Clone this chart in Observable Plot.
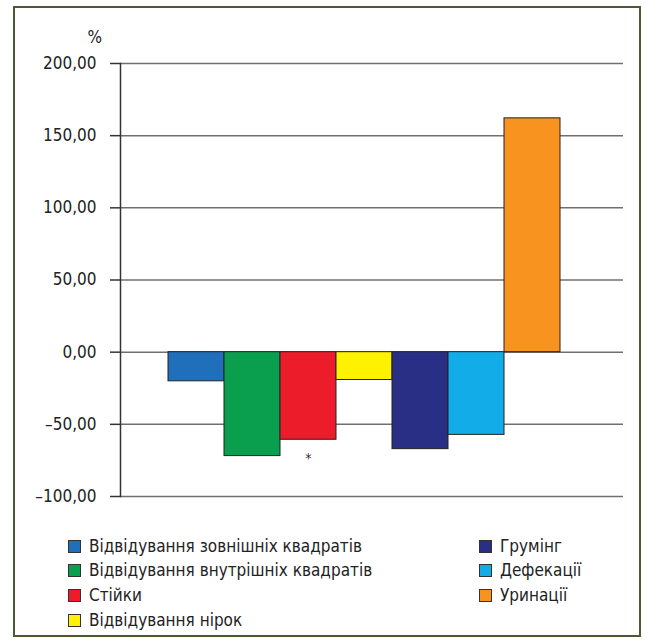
<!DOCTYPE html>
<html>
<head>
<meta charset="utf-8">
<script src="https://cdn.jsdelivr.net/npm/d3@7"></script>
<script src="https://cdn.jsdelivr.net/npm/@observablehq/plot@0.6"></script>
<style>
  html, body { margin: 0; padding: 0; background: #fff; }
  body { width: 646px; height: 640px; position: relative; overflow: hidden;
         font-family: "Liberation Sans Narrow", "Arial Narrow", "DejaVu Sans Condensed", sans-serif; color: #222; }
  #frame { position: absolute; left: 13px; top: 6px; width: 624px; height: 627px; border: 2px solid #4b5a33; }
  #chart { position: absolute; left: 0; top: 0; }
  .leg { position: absolute; font-size: 17px; line-height: 20px; white-space: nowrap; }
  .sw { position: absolute; width: 11px; height: 11px; border: 1px solid #333; }
</style>
</head>
<body>
<div id="frame"></div>
<div id="chart"></div>
<div id="legend"></div>
<script>
const categories = [
  "Відвідування зовнішніх квадратів",
  "Відвідування внутрішніх квадратів",
  "Стійки",
  "Відвідування нірок",
  "Грумінг",
  "Дефекації",
  "Уринації"
];
const values = [-20.2, -72.0, -60.7, -19.3, -67.2, -57.3, 162.0];
const colors = ["#1f6fba", "#0a9e4f", "#ec1c2a", "#fff200", "#2a2f86", "#12ade8", "#f7931e"];
const yTicks = [-100, -50, 0, 50, 100, 150, 200];
const unitLabel = "%";
const noteCategory = "Стійки";
const noteValue = -74;
const noteText = "*";

const data = categories.map((c, i) => ({category: c, value: values[i]}));
const fmt = d => (d < 0 ? "–" : "") + Math.abs(d).toFixed(2).replace(".", ",");
const font = '"Liberation Sans Narrow", "Arial Narrow", "DejaVu Sans Condensed", sans-serif';

const chart = Plot.plot({
  width: 646,
  height: 515,
  marginLeft: 120,
  marginRight: 23,
  marginTop: 63,
  marginBottom: 19,
  style: {fontFamily: font, fontSize: "17px", background: "transparent", color: "#222"},
  x: {domain: categories, padding: 0, insetLeft: 45, insetRight: 61, axis: null},
  y: {domain: [-100, 200]},
  color: {domain: categories, range: colors},
  marks: [
    Plot.ruleY(yTicks, {stroke: "#707070", strokeWidth: 1.5}),
    Plot.barY(data, {x: "category", y: "value", fill: "category", stroke: "#222", strokeWidth: 1}),
    Plot.axisY({ticks: yTicks, tickFormat: fmt, tickSize: 10, tickPadding: 14, label: null, stroke: "#333", strokeWidth: 1.5, fontSize: 17}),
    Plot.frame({anchor: "left", stroke: "#333", strokeWidth: 1.5}),
    Plot.text([{category: noteCategory, value: noteValue, t: noteText}], {x: "category", y: "value", text: "t", fontSize: 14, fill: "#333"}),
    Plot.text([unitLabel], {frameAnchor: "top-left", dx: -33, dy: -33, fontSize: 17, fill: "#222"})
  ]
});
document.getElementById("chart").appendChild(chart);

// Legend (two columns)
const leftCol = categories.slice(0, 4);
const rightCol = categories.slice(4);
const rowsY = [546, 570, 595, 620];
const legend = document.getElementById("legend");
function addItem(name, col, row, color) {
  const sx = col === 0 ? 68 : 479;
  const tx = col === 0 ? 89 : 500;
  const sw = document.createElement("div");
  sw.className = "sw";
  sw.style.left = sx + "px";
  sw.style.top = (rowsY[row] - 6) + "px";
  sw.style.background = color;
  legend.appendChild(sw);
  const t = document.createElement("div");
  t.className = "leg";
  t.style.left = tx + "px";
  t.style.top = (rowsY[row] - 10) + "px";
  t.textContent = name;
  legend.appendChild(t);
}
leftCol.forEach((c, i) => addItem(c, 0, i, colors[i]));
rightCol.forEach((c, i) => addItem(c, 1, i, colors[i + 4]));
</script>
</body>
</html>
